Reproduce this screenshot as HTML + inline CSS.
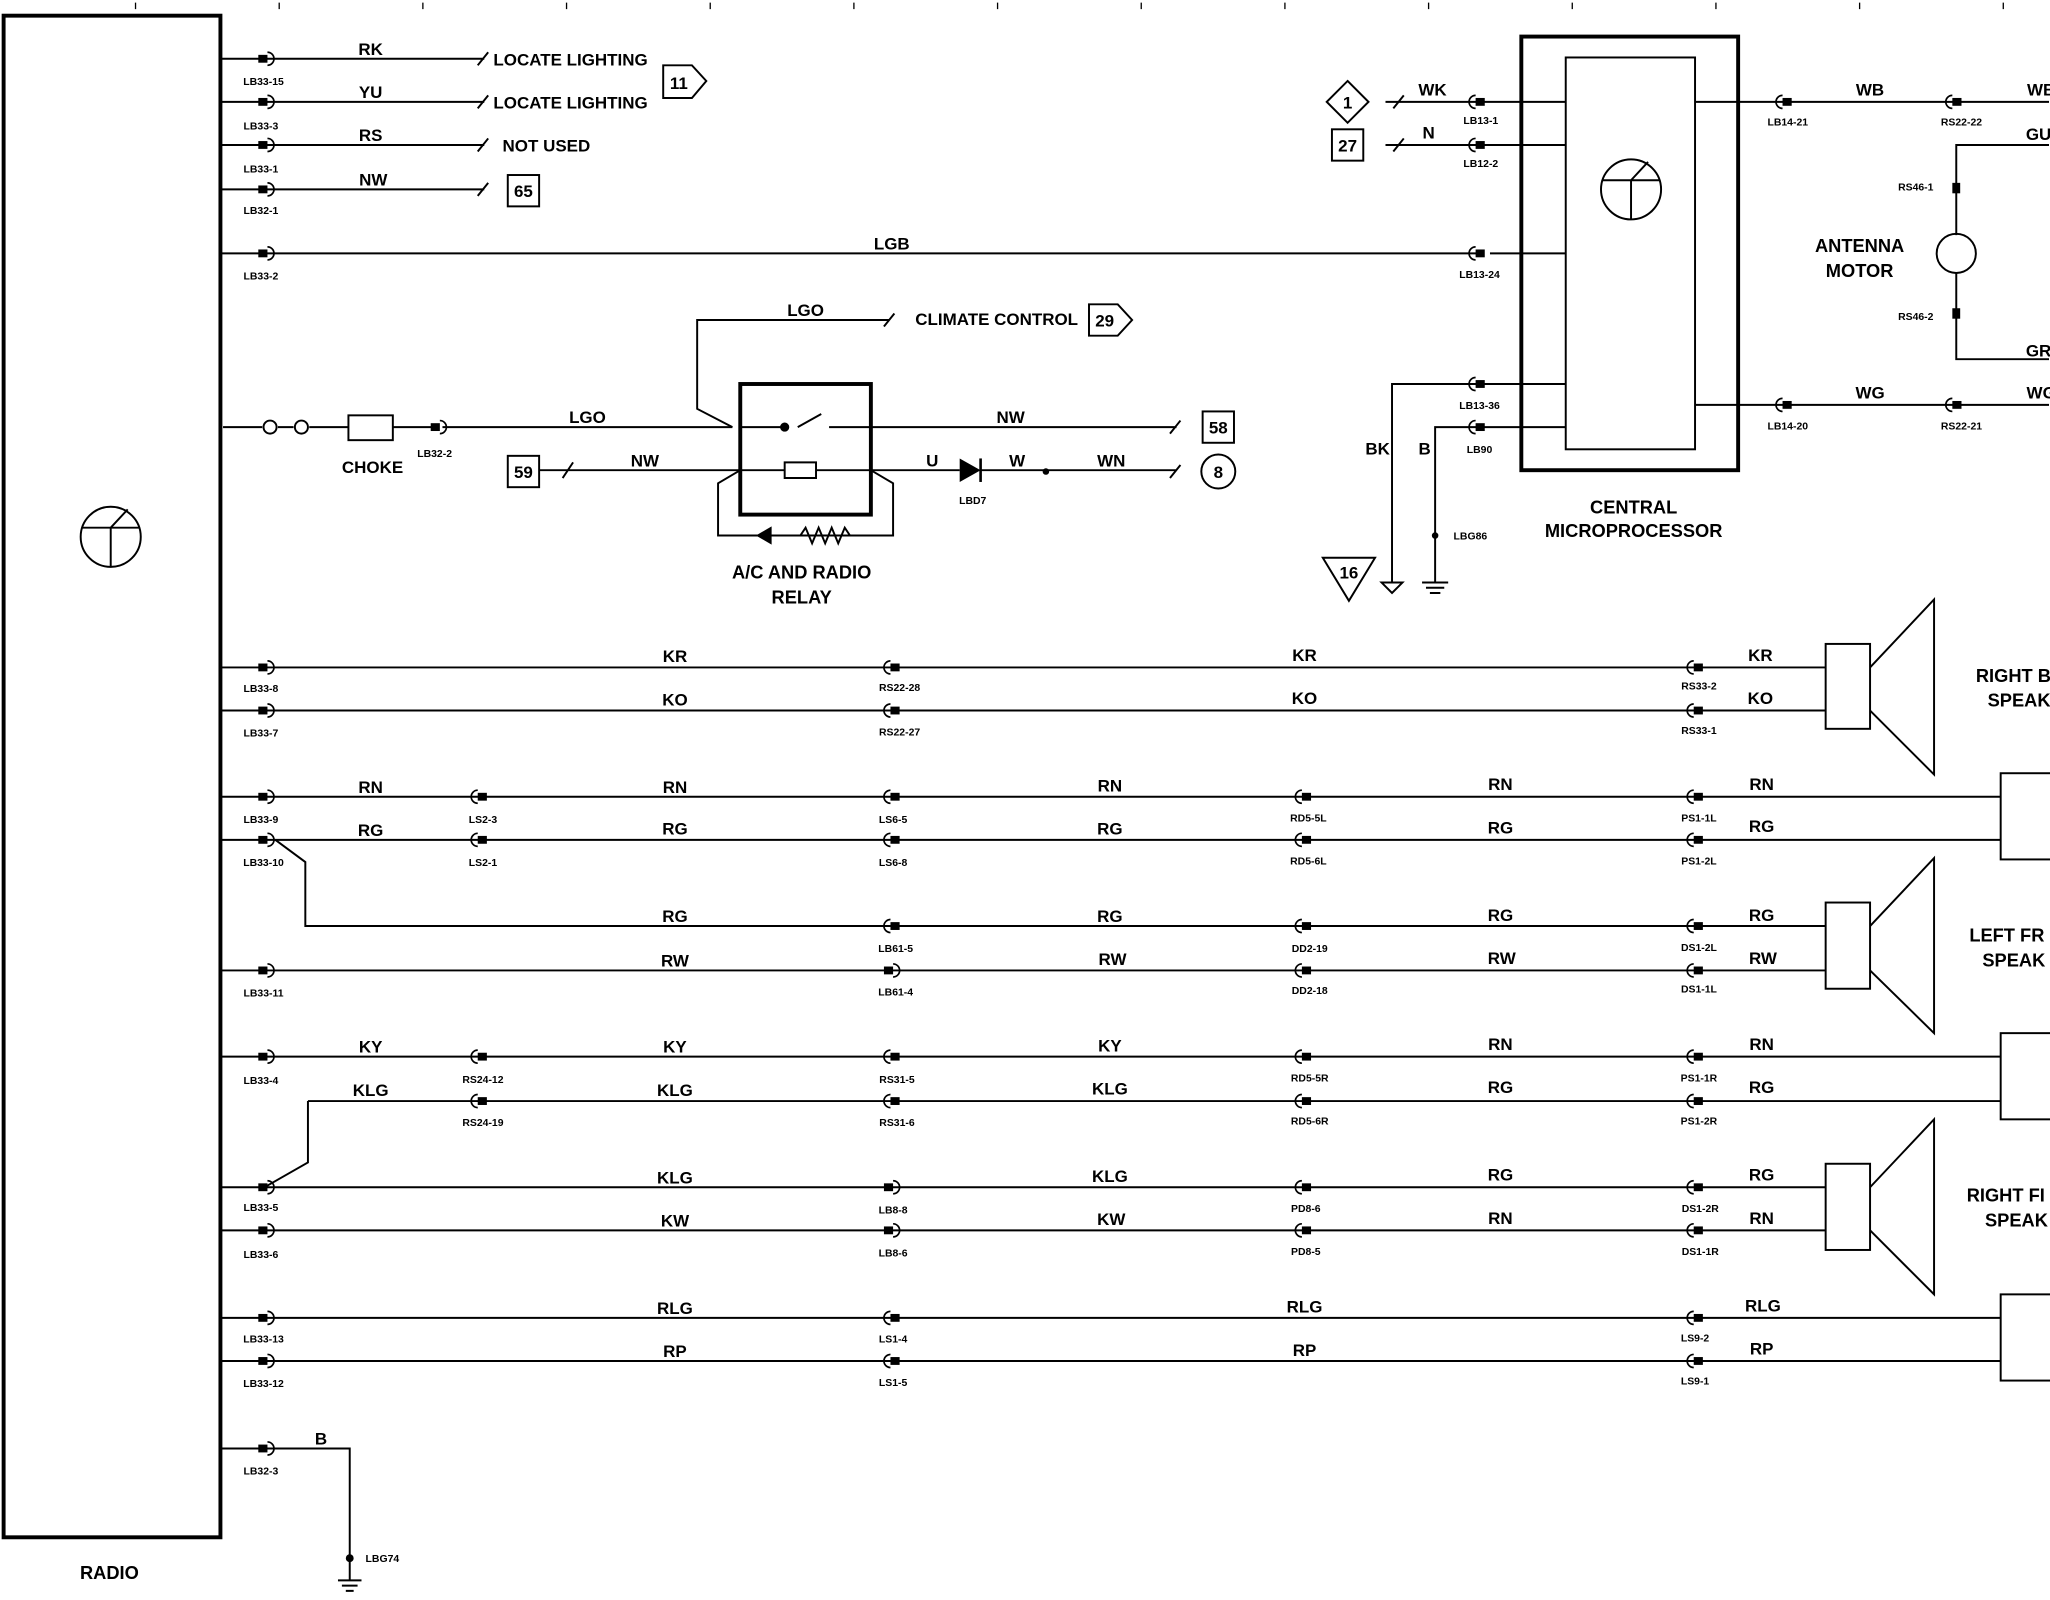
<!DOCTYPE html>
<html><head><meta charset="utf-8"><style>
html,body{margin:0;padding:0;background:#fff}
svg{display:block}
text{font-family:"Liberation Sans",sans-serif;font-weight:bold;fill:#000}
.w{font-size:13px}
.c{font-size:8px}
.b{font-size:14px}
</style></head><body>
<svg width="2050" height="1600" viewBox="0 0 1568 1225" xmlns="http://www.w3.org/2000/svg">
<defs>
<g id="k"><rect x="-6" y="-3" width="7" height="6" fill="#000"/><path d="M1 -5 a5 5 0 0 1 0 10" fill="none" stroke="#000" stroke-width="1.3"/></g>
<g id="kl"><rect x="-1" y="-3" width="7" height="6" fill="#000"/><path d="M-1 -5 a5 5 0 0 0 0 10" fill="none" stroke="#000" stroke-width="1.3"/></g>
</defs>
<g stroke="#000" fill="none" stroke-width="1.5">
<!-- top ticks -->
<path d="M103 2v5M213 2v5M323 2v5M433 2v5M543 2v5M653 2v5M763 2v5M873 2v5M983 2v5M1093 2v5M1203 2v5M1313 2v5M1423 2v5M1533 2v5" stroke-width="1"/>
<!-- radio -->
<rect x="2" y="12" width="166" height="1165" stroke-width="3"/>
<circle cx="84" cy="411" r="23"/><path d="M62 404h44M84 404v30M84 404l13-14"/>
<!-- top rows -->
<path d="M168 45H370M365 50l8-10M168 78H370M365 83l8-10M168 111H370M365 116l8-10M168 145H370M365 150l8-10"/>
<rect x="388" y="134" width="24" height="24"/>
<path d="M507 50h22l11 12-11 13h-22z"/>
<path d="M168 194H1130"/>
<!-- choke row -->
<path d="M170 327H200M212 327H224M236 327H266M300 327H330M338 327H560"/>
<circle cx="206" cy="327" r="5"/><circle cx="230" cy="327" r="5"/>
<rect x="266" y="318" width="34" height="19"/>
<path d="M560 327L533 313V245H680M676 250l8-10"/>
<path d="M833 233h22l11 12-11 12h-22z"/>
<rect x="566" y="294" width="100" height="100" stroke-width="3"/>
<path d="M566 327h34M610 327l18-10M634 327h32M566 360h34v-6h24v12h-24v-6M624 360h42"/>
<path d="M566 360L549 370V410H683V370L666 360M578 410h8M600 410h12l4-6 5 12 5-12 5 12 5-12 5 12 5-12 4 6"/>
<path d="M666 327H900M895 332l8-10"/><rect x="920" y="315" width="24" height="24"/>
<path d="M666 360H734M750 360H900M895 366l8-10"/><circle cx="932" cy="361" r="13"/>
<path d="M412 360H566M430 366l8-12"/><rect x="388" y="349" width="24" height="24"/>
<!-- central micro -->
<rect x="1164" y="28" width="166" height="332" stroke-width="3"/>
<rect x="1198" y="44" width="99" height="300"/>
<circle cx="1248" cy="145" r="23"/><path d="M1226 138h44M1248 138v30M1248 138l13-14"/>
<path d="M1060 78H1198M1066 83l8-10M1060 111H1198M1066 116l8-10"/>
<path d="M1031 62l16 16-16 16-16-16z"/><rect x="1019" y="99" width="24" height="24"/>
<path d="M1140 194H1198M1065 446V294H1198M1098 446V327H1198M1057 446h16l-8 8z"/>
<path d="M1088 446h20M1091 450h14M1094 454h8"/>
<path d="M1012 427h40l-20 33z"/>
<path d="M1297 78H1568M1297 310H1568"/>
<path d="M1568 111H1497V180M1497 209V275H1568"/><circle cx="1497" cy="194" r="15"/>
<!-- speaker rows -->
<path d="M168 511H1397M168 544H1397"/>
<rect x="1397" y="493" width="34" height="65"/><path d="M1431 511L1480 459V593L1431 544"/>
<path d="M168 610H1531M168 643H1531"/><rect x="1531" y="592" width="40" height="66"/>
<path d="M210 643L233 660V709H1397M168 743H1397"/>
<rect x="1397" y="691" width="34" height="66"/><path d="M1431 709L1480 657V791L1431 743"/>
<path d="M168 809H1531M235 843H1531M235 843V890L200 910M168 909H1397M168 942H1397"/>
<rect x="1531" y="791" width="40" height="66"/>
<rect x="1397" y="891" width="34" height="66"/><path d="M1431 909L1480 857V991L1431 942"/>
<path d="M168 1009H1531M168 1042H1531"/><rect x="1531" y="991" width="40" height="66"/>
<path d="M168 1109H267V1210M258 1210h18M261 1214h12M264 1218h6"/>
</g>
<g fill="#000">
<path d="M734 351v18l16-9z"/><path d="M750 351v18" stroke="#000" stroke-width="2"/>
<path d="M578 410l12-7v14z"/>
<circle cx="600" cy="327" r="3.5"/><circle cx="800" cy="361" r="2.5"/><circle cx="1098" cy="410" r="2.5"/><circle cx="267" cy="1193" r="3"/>
<rect x="1494" y="140" width="6" height="8"/><rect x="1494" y="236" width="6" height="8"/>
</g>
<g>
<use href="#k" x="203" y="45"/><use href="#k" x="203" y="78"/><use href="#k" x="203" y="111"/><use href="#k" x="203" y="145"/><use href="#k" x="203" y="194"/>
<use href="#k" x="335" y="327"/><use href="#kl" x="1130" y="78"/><use href="#kl" x="1130" y="111"/><use href="#kl" x="1130" y="194"/><use href="#kl" x="1130" y="294"/><use href="#kl" x="1130" y="327"/>
<use href="#kl" x="1365" y="78"/><use href="#kl" x="1495" y="78"/><use href="#kl" x="1365" y="310"/><use href="#kl" x="1495" y="310"/>
<use href="#k" x="203" y="511"/><use href="#k" x="203" y="544"/><use href="#kl" x="682" y="511"/><use href="#kl" x="682" y="544"/><use href="#kl" x="1297" y="511"/><use href="#kl" x="1297" y="544"/>
<use href="#k" x="203" y="610"/><use href="#k" x="203" y="643"/><use href="#kl" x="366" y="610"/><use href="#kl" x="366" y="643"/><use href="#kl" x="682" y="610"/><use href="#kl" x="682" y="643"/><use href="#kl" x="997" y="610"/><use href="#kl" x="997" y="643"/><use href="#kl" x="1297" y="610"/><use href="#kl" x="1297" y="643"/>
<use href="#kl" x="682" y="709"/><use href="#kl" x="997" y="709"/><use href="#kl" x="1297" y="709"/><use href="#k" x="203" y="743"/><use href="#k" x="682" y="743"/><use href="#kl" x="997" y="743"/><use href="#kl" x="1297" y="743"/>
<use href="#k" x="203" y="809"/><use href="#kl" x="366" y="809"/><use href="#kl" x="366" y="843"/><use href="#kl" x="682" y="809"/><use href="#kl" x="682" y="843"/><use href="#kl" x="997" y="809"/><use href="#kl" x="997" y="843"/><use href="#kl" x="1297" y="809"/><use href="#kl" x="1297" y="843"/>
<use href="#k" x="203" y="909"/><use href="#k" x="203" y="942"/><use href="#k" x="682" y="909"/><use href="#k" x="682" y="942"/><use href="#kl" x="997" y="909"/><use href="#kl" x="997" y="942"/><use href="#kl" x="1297" y="909"/><use href="#kl" x="1297" y="942"/>
<use href="#k" x="203" y="1009"/><use href="#k" x="203" y="1042"/><use href="#kl" x="682" y="1009"/><use href="#kl" x="682" y="1042"/><use href="#kl" x="1297" y="1009"/><use href="#kl" x="1297" y="1042"/>
<use href="#k" x="203" y="1109"/>
</g>
<g class="w" text-anchor="middle">
<text x="283" y="42">RK</text><text x="283" y="75">YU</text><text x="283" y="108">RS</text><text x="285" y="142">NW</text>
<text x="682" y="191">LGB</text><text x="616" y="242">LGO</text><text x="449" y="324">LGO</text><text x="493" y="357">NW</text>
<text x="773" y="324">NW</text><text x="713" y="357">U</text><text x="778" y="357">W</text><text x="850" y="357">WN</text>
<text x="1096" y="73">WK</text><text x="1093" y="106">N</text><text x="1054" y="348">BK</text><text x="1090" y="348">B</text>
<text x="1431" y="73">WB</text><text x="1431" y="305">WG</text><text x="1560" y="107">GU</text><text x="1560" y="273">GR</text><text x="1562" y="73">WB</text><text x="1562" y="305">WG</text>
<text x="516" y="507">KR</text><text x="998" y="506">KR</text><text x="1347" y="506">KR</text>
<text x="516" y="540">KO</text><text x="998" y="539">KO</text><text x="1347" y="539">KO</text>
<text x="283" y="607">RN</text><text x="516" y="607">RN</text><text x="849" y="606">RN</text><text x="1148" y="605">RN</text><text x="1348" y="605">RN</text>
<text x="283" y="640">RG</text><text x="516" y="639">RG</text><text x="849" y="639">RG</text><text x="1148" y="638">RG</text><text x="1348" y="637">RG</text>
<text x="516" y="706">RG</text><text x="849" y="706">RG</text><text x="1148" y="705">RG</text><text x="1348" y="705">RG</text>
<text x="516" y="740">RW</text><text x="851" y="739">RW</text><text x="1149" y="738">RW</text><text x="1349" y="738">RW</text>
<text x="283" y="806">KY</text><text x="516" y="806">KY</text><text x="849" y="805">KY</text><text x="1148" y="804">RN</text><text x="1348" y="804">RN</text>
<text x="283" y="839">KLG</text><text x="516" y="839">KLG</text><text x="849" y="838">KLG</text><text x="1148" y="837">RG</text><text x="1348" y="837">RG</text>
<text x="516" y="906">KLG</text><text x="849" y="905">KLG</text><text x="1148" y="904">RG</text><text x="1348" y="904">RG</text>
<text x="516" y="939">KW</text><text x="850" y="938">KW</text><text x="1148" y="937">RN</text><text x="1348" y="937">RN</text>
<text x="516" y="1006">RLG</text><text x="998" y="1005">RLG</text><text x="1349" y="1004">RLG</text>
<text x="516" y="1039">RP</text><text x="998" y="1038">RP</text><text x="1348" y="1037">RP</text>
<text x="245" y="1106">B</text>
<text x="400" y="151">65</text><text x="519" y="68">11</text><text x="845" y="250">29</text><text x="932" y="332">58</text><text x="400" y="366">59</text><text x="932" y="366">8</text>
<text x="1031" y="83">1</text><text x="1031" y="116">27</text><text x="1032" y="443">16</text>
</g>
<g class="w">
<text x="377" y="50">LOCATE LIGHTING</text><text x="377" y="83">LOCATE LIGHTING</text><text x="384" y="116">NOT USED</text>
<text x="700" y="249">CLIMATE CONTROL</text><text x="261" y="362">CHOKE</text>
</g>
<g class="b" text-anchor="middle">
<text x="613" y="443">A/C AND RADIO</text><text x="613" y="462">RELAY</text>
<text x="1250" y="393">CENTRAL</text><text x="1250" y="411">MICROPROCESSOR</text>
<text x="1423" y="193">ANTENNA</text><text x="1423" y="212">MOTOR</text>
<text x="83" y="1209">RADIO</text>
</g>
<g class="b">
<text x="1512" y="522">RIGHT B</text><text x="1521" y="541">SPEAK</text>
<text x="1507" y="721">LEFT FR</text><text x="1517" y="740">SPEAK</text>
<text x="1505" y="920">RIGHT FI</text><text x="1519" y="939">SPEAK</text>
</g>
<g class="c" text-anchor="middle">
<text x="201" y="65">LB33-15</text><text x="199" y="99">LB33-3</text><text x="199" y="132">LB33-1</text><text x="199" y="164">LB32-1</text><text x="199" y="214">LB33-2</text>
<text x="332" y="350">LB32-2</text><text x="744" y="386">LBD7</text>
<text x="1133" y="95">LB13-1</text><text x="1133" y="128">LB12-2</text><text x="1132" y="213">LB13-24</text><text x="1132" y="313">LB13-36</text><text x="1132" y="347">LB90</text><text x="1125" y="413">LBG86</text>
<text x="1368" y="96">LB14-21</text><text x="1501" y="96">RS22-22</text><text x="1368" y="329">LB14-20</text><text x="1501" y="329">RS22-21</text>
<text x="1466" y="146">RS46-1</text><text x="1466" y="245">RS46-2</text>
<text x="199" y="530">LB33-8</text><text x="199" y="564">LB33-7</text><text x="688" y="529">RS22-28</text><text x="688" y="563">RS22-27</text><text x="1300" y="528">RS33-2</text><text x="1300" y="562">RS33-1</text>
<text x="199" y="630">LB33-9</text><text x="201" y="663">LB33-10</text><text x="369" y="630">LS2-3</text><text x="369" y="663">LS2-1</text><text x="683" y="630">LS6-5</text><text x="683" y="663">LS6-8</text><text x="1001" y="629">RD5-5L</text><text x="1001" y="662">RD5-6L</text><text x="1300" y="629">PS1-1L</text><text x="1300" y="662">PS1-2L</text>
<text x="685" y="729">LB61-5</text><text x="1002" y="729">DD2-19</text><text x="1300" y="728">DS1-2L</text><text x="201" y="763">LB33-11</text><text x="685" y="762">LB61-4</text><text x="1002" y="761">DD2-18</text><text x="1300" y="760">DS1-1L</text>
<text x="199" y="830">LB33-4</text><text x="369" y="829">RS24-12</text><text x="369" y="862">RS24-19</text><text x="686" y="829">RS31-5</text><text x="686" y="862">RS31-6</text><text x="1002" y="828">RD5-5R</text><text x="1002" y="861">RD5-6R</text><text x="1300" y="828">PS1-1R</text><text x="1300" y="861">PS1-2R</text>
<text x="199" y="927">LB33-5</text><text x="199" y="963">LB33-6</text><text x="683" y="929">LB8-8</text><text x="683" y="962">LB8-6</text><text x="999" y="928">PD8-6</text><text x="999" y="961">PD8-5</text><text x="1301" y="928">DS1-2R</text><text x="1301" y="961">DS1-1R</text>
<text x="201" y="1028">LB33-13</text><text x="201" y="1062">LB33-12</text><text x="683" y="1028">LS1-4</text><text x="683" y="1061">LS1-5</text><text x="1297" y="1027">LS9-2</text><text x="1297" y="1060">LS9-1</text>
<text x="199" y="1129">LB32-3</text><text x="292" y="1196">LBG74</text>
</g>
</svg>
</body></html>
